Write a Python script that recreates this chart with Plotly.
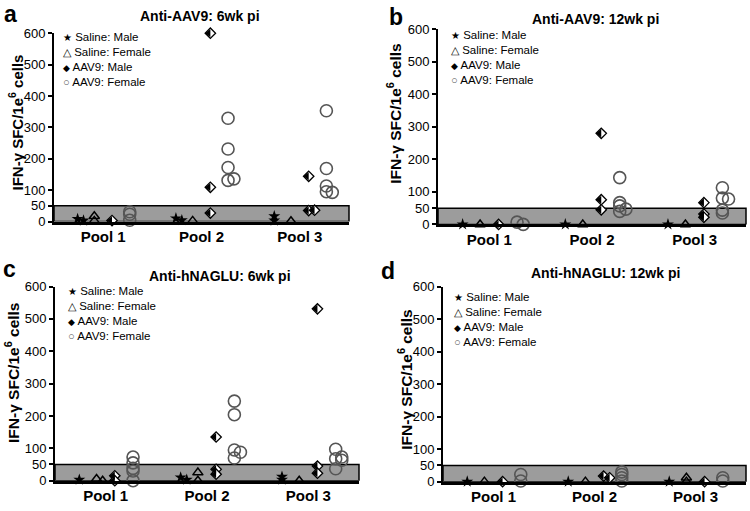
import plotly.graph_objects as go
from plotly.subplots import make_subplots

# ---------------- data ----------------
POOLS = ["Pool 1", "Pool 2", "Pool 3"]
GROUPS = ["Saline: Male", "Saline: Female", "AAV9: Male", "AAV9: Female"]
Y_TICKS = [0, 50, 100, 200, 300, 400, 500, 600]
THRESHOLD = 50
PANEL_LETTERS = ["a", "b", "c", "d"]
PANEL_TITLES = ["Anti-AAV9: 6wk pi", "Anti-AAV9: 12wk pi",
                "Anti-hNAGLU: 6wk pi", "Anti-hNAGLU: 12wk pi"]
Y_TITLE = "IFN-γ SFC/1e<sup>6</sup> cells"

# values per pool (Pool 1, Pool 2, Pool 3)
a_saline_male = [[8, 3], [10, 4], [17, 3]]
a_saline_female = [[17, 2], [2], [1]]
a_aav9_male = [[3], [600, 109, 27], [144, 35, 36]]
a_aav9_female = [[31, 23, 4], [329, 231, 172, 131, 136], [353, 169, 113, 95, 93]]

b_saline_male = [[0], [0], [0]]
b_saline_female = [[0], [0], [0]]
b_aav9_male = [[0], [280, 76, 45], [67, 32, 22]]
b_aav9_female = [[7, 0], [144, 67, 57, 40, 47], [113, 81, 78, 35, 44]]

c_saline_male = [[3], [10, 3], [12, 3]]
c_saline_female = [[5, 0], [25, 0], [0]]
c_aav9_male = [[15, 0], [135, 35, 20], [531, 45, 23]]
c_aav9_female = [[73, 55, 38, 30, 0], [246, 204, 95, 88, 70], [97, 68, 73, 63, 37]]

d_saline_male = [[0], [0], [0]]
d_saline_female = [[0], [0], [12, 0]]
d_aav9_male = [[0], [17, 12], [0]]
d_aav9_female = [[22, 2], [30, 22, 12, 2], [12, 2]]

PANELS = [
    [a_saline_male, a_saline_female, a_aav9_male, a_aav9_female],
    [b_saline_male, b_saline_female, b_aav9_male, b_aav9_female],
    [c_saline_male, c_saline_female, c_aav9_male, c_aav9_female],
    [d_saline_male, d_saline_female, d_aav9_male, d_aav9_female],
]

# ---------------- style ----------------
FONT = "Liberation Sans, Arial, sans-serif"
GROUP_OFFSET = [-0.26, -0.09, 0.09, 0.27]
MARKERS = [
    dict(symbol="star", size=9, color="black", line=dict(width=0)),
    dict(symbol="triangle-up-open", size=9, color="black", line=dict(width=1.5)),
    dict(symbol="diamond", size=8, color="white", line=dict(width=1.3, color="black")),
    dict(symbol="circle-open", size=12, color="#555555", line=dict(width=1.6)),
]
HALF_FILL = dict(symbol="triangle-left", size=7, color="black", line=dict(width=0))
HALF_FILL_SHIFT_PX = 1.75

LEGEND_SYMBOLS = [("★", 10, "black"), ("△", 11, "black"),
                  ("◆", 9, "black"), ("○", 11, "#555555")]

# target pixel geometry (reference picture coords)
W, H = 750, 511


def yp(y):
    """pixel row -> paper fraction"""
    return 1 - y / H


PANEL_BOX = [(54, 349, 221, 27), (438, 746, 224, 23),
             (55, 359, 488, 288), (443, 746, 489, 288)]
TITLE_POS = [(200, 9), (595, 12), (220, 277), (605, 274)]
LETTER_POS = [(2, 7), (387, 10), (1, 270), (379, 272)]
LEGEND_POS = [(62, 54), (450, 52), (67, 316), (453, 322)]
YTITLE_POS = [(16, 119), (394, 110), (12, 377), (405, 384)]
YTITLE_SIZE = [15, 15.5, 15.5, 15.5]


def dodge(vals, thr=8, step=0.06):
    placed, out = [], []
    for v in vals:
        dx = 0
        for k in [0, 1, -1, 2, -2]:
            dx = k * step
            ok = all(abs(v - pv) >= thr or v == pv or abs(dx - pdx) > step * 0.5
                     for pv, pdx in placed)
            if ok:
                break
        placed.append((v, dx))
        out.append(dx)
    return out


fig = make_subplots(rows=2, cols=2)

for p, panel in enumerate(PANELS):
    row, col = p // 2 + 1, p % 2 + 1
    xl, xr, y0, y6 = PANEL_BOX[p]
    px_per_unit = (xr - xl) / 3.0
    for g, group in enumerate(panel):
        xs, ys = [], []
        for i, vals in enumerate(group):
            dxs = dodge(vals)
            for v, dx in zip(vals, dxs):
                xs.append(i + GROUP_OFFSET[g] + dx)
                ys.append(v)
        fig.add_trace(go.Scatter(x=xs, y=ys, mode="markers", marker=MARKERS[g],
                                 name=GROUPS[g], showlegend=False, cliponaxis=False,
                                 hoverinfo="y"),
                      row=row, col=col)
        if g == 2:
            shift = HALF_FILL_SHIFT_PX / px_per_unit
            fig.add_trace(go.Scatter(x=[x - shift for x in xs], y=ys, mode="markers",
                                     marker=HALF_FILL, showlegend=False,
                                     cliponaxis=False, hoverinfo="skip"),
                          row=row, col=col)

    sfx = "" if p == 0 else str(p + 1)
    fig.layout["xaxis" + sfx].update(
        domain=[xl / W, xr / W], range=[-0.5, 2.5],
        tickvals=[0, 1, 2], ticktext=["<b>%s</b>" % s for s in POOLS],
        tickfont=dict(family=FONT, size=15, color="black"),
        ticks="", showline=True, linewidth=2.5, linecolor="black",
        showgrid=False, zeroline=False)
    fig.layout["yaxis" + sfx].update(
        domain=[yp(y0), yp(y6)], range=[0, 600],
        tickvals=Y_TICKS, tickfont=dict(family=FONT, size=13, color="black"),
        ticks="outside", ticklen=4, tickwidth=1.5, tickcolor="black",
        showline=True, linewidth=2, linecolor="black",
        showgrid=False, zeroline=False)
    fig.add_shape(type="rect", xref="x%s domain" % sfx, yref="y" + sfx,
                  x0=0, x1=1, y0=0, y1=THRESHOLD,
                  fillcolor="#9c9c9c", line=dict(color="black", width=1.5),
                  layer="below")
    tx, ty = TITLE_POS[p]
    fig.add_annotation(text="<b>%s</b>" % PANEL_TITLES[p], xref="paper", yref="paper",
                       x=tx / W, y=yp(ty), xanchor="center", yanchor="middle",
                       showarrow=False, font=dict(family=FONT, size=14, color="black"))
    lx, ly = LETTER_POS[p]
    fig.add_annotation(text="<b>%s</b>" % PANEL_LETTERS[p], xref="paper", yref="paper",
                       x=lx / W, y=yp(ly), xanchor="left", yanchor="middle",
                       showarrow=False, font=dict(family=FONT, size=23, color="black"))
    vx, vy = YTITLE_POS[p]
    fig.add_annotation(text="<b>%s</b>" % Y_TITLE, xref="paper", yref="paper",
                       x=vx / W, y=yp(vy), xanchor="center", yanchor="middle",
                       textangle=-90, showarrow=False,
                       font=dict(family=FONT, size=YTITLE_SIZE[p], color="black"))
    gx, gy = LEGEND_POS[p]
    lines = ["<span style='font-size:%dpx;color:%s'>%s</span> %s" % (sz, c, s, GROUPS[g])
             for g, (s, sz, c) in enumerate(LEGEND_SYMBOLS)]
    fig.add_annotation(text="<br>".join(lines), xref="paper", yref="paper",
                       x=gx / W, y=yp(gy), xanchor="left", yanchor="middle",
                       align="left", showarrow=False, borderpad=0,
                       font=dict(family=FONT, size=11.5, color="black"))

fig.update_layout(width=W, height=H, margin=dict(l=0, r=0, t=0, b=0),
                  paper_bgcolor="white", plot_bgcolor="white", showlegend=False)
fig.write_html("out.html", config={"displayModeBar": False},
               post_script="document.body.style.margin='0';")
